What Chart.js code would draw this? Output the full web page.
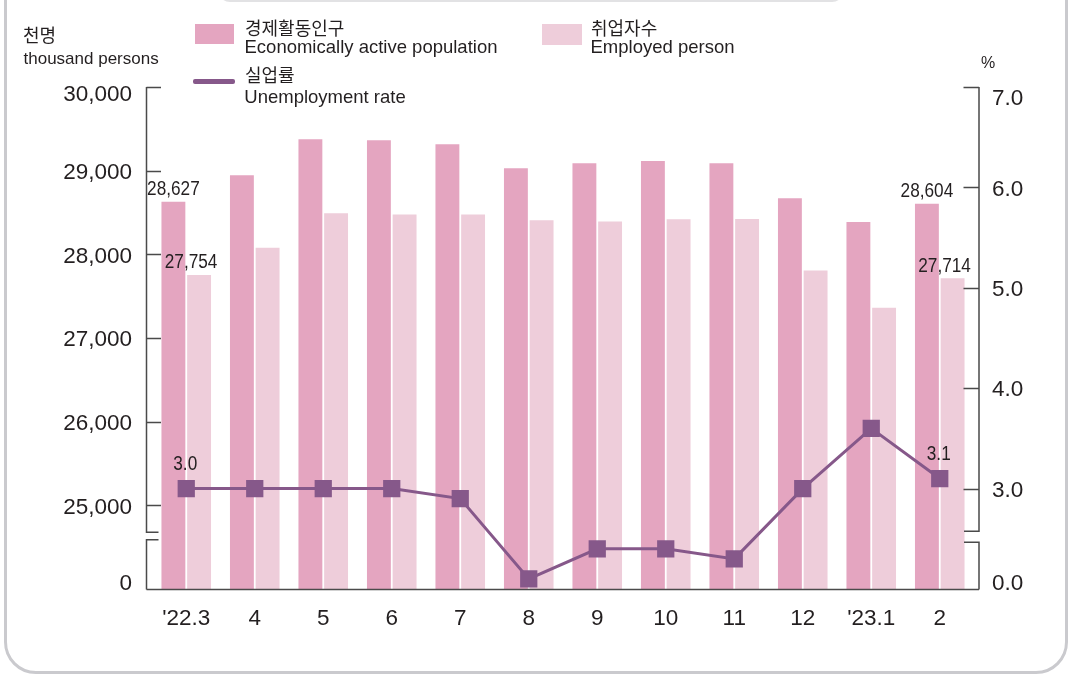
<!DOCTYPE html>
<html lang="ko">
<head>
<meta charset="utf-8">
<title>경제활동인구 · 취업자수 · 실업률</title>
<script src="https://cdn.jsdelivr.net/npm/chart.js@4.4.0/dist/chart.umd.min.js"></script>
<style>
  html, body { margin: 0; padding: 0; background: #fff; }
  body {
    width: 1069px; height: 674px; position: relative; overflow: hidden;
    font-family: "Liberation Sans", Arial, "Noto Sans CJK KR", sans-serif; color: #231f20;
  }
  #frame {
    position: absolute; left: 4px; top: -60px; width: 1064px; height: 734px;
    box-sizing: border-box; border: 3px solid #cacace; border-radius: 32px;
  }
  #tab {
    position: absolute; left: 218px; top: -30px; width: 626px; height: 32px;
    box-sizing: border-box; border: 2px solid #e2e2e4; border-radius: 12px;
  }
  #wrap { position: absolute; left: 0; top: 0; width: 1069px; height: 674px; }
  .t { position: absolute; white-space: nowrap; line-height: 1; }
  .ko { font-family: "Noto Sans CJK KR", sans-serif; font-size: 18px; }
  .en { font-size: 18.5px; }
  .sw { position: absolute; }
</style>
</head>
<body>
<div id="frame"></div>
<div id="tab"></div>
<div id="wrap"><canvas id="chart"></canvas></div>

<!-- unit labels -->
<div class="t ko" style="left:23px;top:25px">천명</div>
<div class="t" style="left:23.5px;top:50px;font-size:17px">thousand persons</div>
<div class="t" style="left:981px;top:55px;font-size:16px">%</div>

<!-- legend -->
<div class="sw" id="swActive" style="left:195px;top:24px;width:39px;height:20px"></div>
<div class="t ko" style="left:245px;top:18px">경제활동인구</div>
<div class="t en" style="left:244.5px;top:37.6px">Economically active population</div>

<div class="sw" id="swEmployed" style="left:542px;top:24px;width:40px;height:21px"></div>
<div class="t ko" style="left:591px;top:18px">취업자수</div>
<div class="t en" style="left:590.5px;top:37.6px">Employed person</div>

<div class="sw" id="swRate" style="left:193px;top:79px;width:42px;height:4.5px;border-radius:2px"></div>
<div class="t ko" style="left:245px;top:65.2px">실업률</div>
<div class="t en" style="left:244.3px;top:87.6px">Unemployment rate</div>

<script>
// Data
const categories = ["'22.3", '4', '5', '6', '7', '8', '9', '10', '11', '12', "'23.1", '2'];
const activePopulation = [28627, 28945, 29375, 29365, 29315, 29030, 29090, 29115, 29090, 28670, 28385, 28604];
const employedPersons = [27754, 28080, 28490, 28477, 28475, 28407, 28392, 28420, 28421, 27808, 27363, 27714];
const unemploymentRate = [3.0, 3.0, 3.0, 3.0, 2.9, 2.1, 2.4, 2.4, 2.3, 3.0, 3.6, 3.1];

// Axis ticks (lowest tick sits under the axis break)
const leftTicks = [24000, 25000, 26000, 27000, 28000, 29000, 30000];
const leftTickLabels = ['0', '25,000', '26,000', '27,000', '28,000', '29,000', '30,000'];
const rightTicks = [2, 3, 4, 5, 6, 7];
const rightTickLabels = ['0.0', '3.0', '4.0', '5.0', '6.0', '7.0'];

// Points that get a value label (first and last month)
const labelledPoints = [0, 11];

// Colours
const activeColor = '#e4a5c0';
const employedColor = '#eecdda';
const rateColor = '#86588a';
const textColor = '#231f20';
const axisColor = '#4a4a4a';
const fontFamily = '"Liberation Sans", Arial, sans-serif';

document.getElementById('swActive').style.background = activeColor;
document.getElementById('swEmployed').style.background = employedColor;
document.getElementById('swRate').style.background = rateColor;

// Axes with a break near the bottom, drawn from the chart's scales
const brokenAxes = {
  id: 'brokenAxes',
  afterDatasetsDraw(chart) {
    const { ctx, chartArea, scales } = chart;
    const y = scales.y, y2 = scales.y2;
    const left = chartArea.left - 5.5;
    const right = chartArea.right + 5;
    const bottom = chartArea.bottom + 0.5;
    const top = chartArea.top;

    ctx.save();
    ctx.strokeStyle = axisColor;
    ctx.lineWidth = 1.5;
    ctx.beginPath();
    // left axis, upper part
    ctx.moveTo(left, top);
    ctx.lineTo(left, bottom - 57.3);
    ctx.lineTo(left + 12, bottom - 57.3);
    // left axis, lower part
    ctx.moveTo(left + 12, bottom - 49.7);
    ctx.lineTo(left, bottom - 49.7);
    ctx.lineTo(left, bottom);
    // right axis, upper part
    ctx.moveTo(right, top);
    ctx.lineTo(right, bottom - 58.3);
    ctx.lineTo(right - 15, bottom - 58.3);
    // right axis, lower part
    ctx.moveTo(right - 15, bottom - 47.3);
    ctx.lineTo(right, bottom - 47.3);
    ctx.lineTo(right, bottom);
    // x axis
    ctx.moveTo(left, bottom);
    ctx.lineTo(right, bottom);
    // tick marks
    leftTicks.slice(1).forEach(v => {
      const py = Math.round(y.getPixelForValue(v)) + 0.5;
      ctx.moveTo(left, py);
      ctx.lineTo(left + 14.5, py);
    });
    rightTicks.slice(1).forEach(v => {
      const py = Math.round(y2.getPixelForValue(v)) + 0.5;
      ctx.moveTo(right, py);
      ctx.lineTo(right - 15.5, py);
    });
    ctx.stroke();

    // tick labels
    ctx.fillStyle = textColor;
    ctx.font = '22.5px ' + fontFamily;
    ctx.textBaseline = 'middle';
    ctx.textAlign = 'right';
    leftTicks.forEach((v, i) => {
      let py = y.getPixelForValue(v) + 2;
      if (i === 0) py -= 7;
      if (i === leftTicks.length - 1) py += 5.5;
      ctx.fillText(leftTickLabels[i], left - 14.5, py);
    });
    ctx.textAlign = 'left';
    rightTicks.forEach((v, i) => {
      let py = y2.getPixelForValue(v) + 2;
      if (i === 0) py -= 7.3;
      if (i === rightTicks.length - 1) py += 9.4;
      ctx.fillText(rightTickLabels[i], right + 13, py);
    });
    ctx.restore();
  }
};

// Value labels on the first and last month
const valueLabels = {
  id: 'valueLabels',
  afterDatasetsDraw(chart) {
    const { ctx } = chart;
    ctx.save();
    ctx.fillStyle = textColor;
    ctx.font = '20px ' + fontFamily;
    ctx.textAlign = 'center';
    ctx.textBaseline = 'middle';
    chart.data.datasets.forEach((ds, di) => {
      const meta = chart.getDatasetMeta(di);
      labelledPoints.forEach(i => {
        const el = meta.data[i];
        const v = ds.data[i];
        const text = ds.type === 'line' ? v.toFixed(1) : v.toLocaleString('en-US');
        ctx.save();
        ctx.translate(el.x + ds.labelDx, el.y + ds.labelDy + 1.5);
        ctx.scale(0.86, 1);
        ctx.fillText(text, 0, 0);
        ctx.restore();
      });
    });
    ctx.restore();
  }
};

new Chart(document.getElementById('chart'), {
  type: 'bar',
  data: {
    labels: categories,
    datasets: [
      {
        type: 'line',
        label: '실업률 Unemployment rate',
        data: unemploymentRate,
        yAxisID: 'y2',
        borderColor: rateColor,
        borderWidth: 3,
        pointStyle: 'rect',
        pointRadius: 12.2,
        pointBackgroundColor: rateColor,
        pointBorderWidth: 0,
        tension: 0,
        order: 0,
        labelDx: -1,
        labelDy: -26
      },
      {
        label: '경제활동인구 Economically active population',
        data: activePopulation,
        yAxisID: 'y',
        backgroundColor: activeColor,
        categoryPercentage: 0.75,
        barPercentage: 0.93,
        order: 1,
        labelDx: 0,
        labelDy: -14
      },
      {
        label: '취업자수 Employed person',
        data: employedPersons,
        yAxisID: 'y',
        backgroundColor: employedColor,
        categoryPercentage: 0.75,
        barPercentage: 0.93,
        order: 1,
        labelDx: -8,
        labelDy: -13.5
      }
    ]
  },
  options: {
    responsive: true,
    maintainAspectRatio: false,
    animation: false,
    layout: { padding: { top: 87, bottom: 40, left: 0, right: 0 } },
    plugins: {
      legend: { display: false },
      tooltip: { enabled: false }
    },
    scales: {
      x: {
        grid: { display: false, drawTicks: false },
        border: { display: false },
        ticks: {
          color: textColor,
          font: { family: fontFamily, size: 22.5 },
          padding: 16,
          maxRotation: 0,
          autoSkip: false
        },
        afterFit(scale) { scale.height = 45; }
      },
      y: {
        position: 'left',
        min: leftTicks[0],
        max: leftTicks[leftTicks.length - 1],
        grid: { display: false, drawTicks: false },
        border: { display: false },
        ticks: { display: false },
        afterFit(scale) { scale.width = 152; }
      },
      y2: {
        position: 'right',
        min: rightTicks[0],
        max: rightTicks[rightTicks.length - 1],
        grid: { display: false, drawTicks: false },
        border: { display: false },
        ticks: { display: false },
        afterFit(scale) { scale.width = 95; }
      }
    }
  },
  plugins: [brokenAxes, valueLabels]
});
</script>
</body>
</html>
